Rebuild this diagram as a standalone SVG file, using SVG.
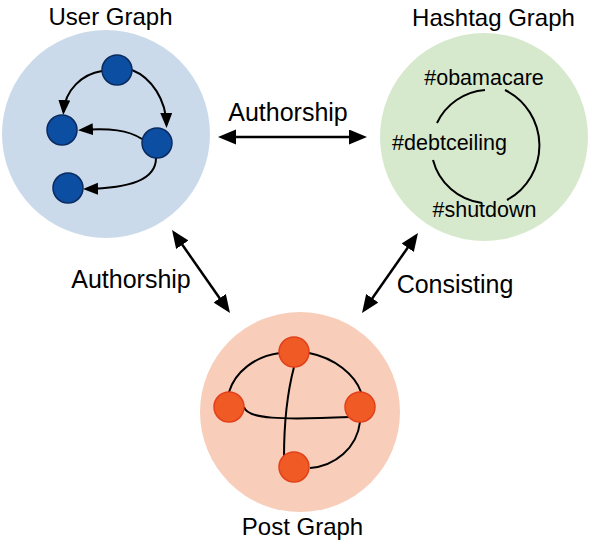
<svg xmlns="http://www.w3.org/2000/svg" width="592" height="545" viewBox="0 0 592 545">
<style>
text{font-family:"Liberation Sans",Arial,sans-serif;fill:#000;text-anchor:middle}
.t{font-size:24px}
.l{font-size:25px}
.h{font-size:21.5px}
.bg-u{fill:#CBDAEB}
.bg-h{fill:#D7E9CD}
.bg-p{fill:#F8CEBB}
.un{fill:#0B4EA2;stroke:#0A2A5E;stroke-width:1.5}
.pn{fill:#F05A24;stroke:#E2401A;stroke-width:1.5}
.e{fill:none;stroke:#000;stroke-width:2}
.big{fill:none;stroke:#000;stroke-width:2.5;marker-start:url(#bh);marker-end:url(#bh)}
.ue{fill:none;stroke:#000;stroke-width:2;marker-end:url(#sh)}
</style>
<defs>
<marker id="bh" markerUnits="userSpaceOnUse" markerWidth="20" markerHeight="16" refX="14" refY="7.5" orient="auto-start-reverse" viewBox="0 0 20 16">
<path d="M0,0 L18,7.5 L0,15 z" fill="#000"/>
</marker>
<marker id="sh" markerUnits="userSpaceOnUse" markerWidth="17" markerHeight="14" refX="12" refY="6" orient="auto" viewBox="0 0 17 14">
<path d="M0,0 L15,6 L0,12 z" fill="#000"/>
</marker>
</defs>

<g id="user-graph">
<circle class="bg-u" cx="106" cy="134" r="104"/>
<text class="t" x="110.5" y="25">User Graph</text>
<path class="ue" d="M102,71 C82,74 65,90 63.5,112"/>
<path class="ue" d="M132,70 C152,78 166,100 166.5,125"/>
<path class="ue" d="M142,139 C128,130 110,128 81,130"/>
<path class="ue" d="M156,158 C156,180 130,188 86,189"/>
<circle class="un" cx="117" cy="70" r="15"/>
<circle class="un" cx="62" cy="130" r="15"/>
<circle class="un" cx="157" cy="143" r="15"/>
<circle class="un" cx="68" cy="188" r="15"/>
</g>

<g id="hashtag-graph">
<circle class="bg-h" cx="484" cy="137" r="104"/>
<text class="t" x="493.5" y="26">Hashtag Graph</text>
<path class="e" d="M485,90 A58,58 0 0,0 437,123"/>
<path class="e" d="M433,160 A58,58 0 0,0 482,203"/>
<path class="e" d="M505,90 A62,62 0 0,1 507,200"/>
<text class="h" x="484" y="85">#obamacare</text>
<text class="h" x="449.5" y="150">#debtceiling</text>
<text class="h" x="484.5" y="217">#shutdown</text>
</g>

<g id="post-graph">
<circle class="bg-p" cx="300" cy="412" r="100"/>
<text class="t" x="302.5" y="535">Post Graph</text>
<path class="e" d="M280,353 C255,356 235,372 229,392"/>
<path class="e" d="M309,353 C335,358 355,375 361,392"/>
<path class="e" d="M244,407 C247,419 280,420 350,417"/>
<path class="e" d="M294,367 C288,390 284,420 284,457"/>
<path class="e" d="M360,422 C357,448 335,466 310,468"/>
<circle class="pn" cx="294" cy="352" r="15"/>
<circle class="pn" cx="229" cy="407" r="15"/>
<circle class="pn" cx="360" cy="407" r="15"/>
<circle class="pn" cx="294" cy="467" r="15"/>
</g>

<g id="connectors">
<path class="big" d="M222,137 L363,137"/>
<path class="big" d="M174.3,233.3 L227.7,309.7"/>
<path class="big" d="M415.7,236.3 L364.3,309.7"/>
<text class="l" x="288" y="121">Authorship</text>
<text class="l" x="131" y="288">Authorship</text>
<text class="l" x="455" y="293">Consisting</text>
</g>
</svg>
